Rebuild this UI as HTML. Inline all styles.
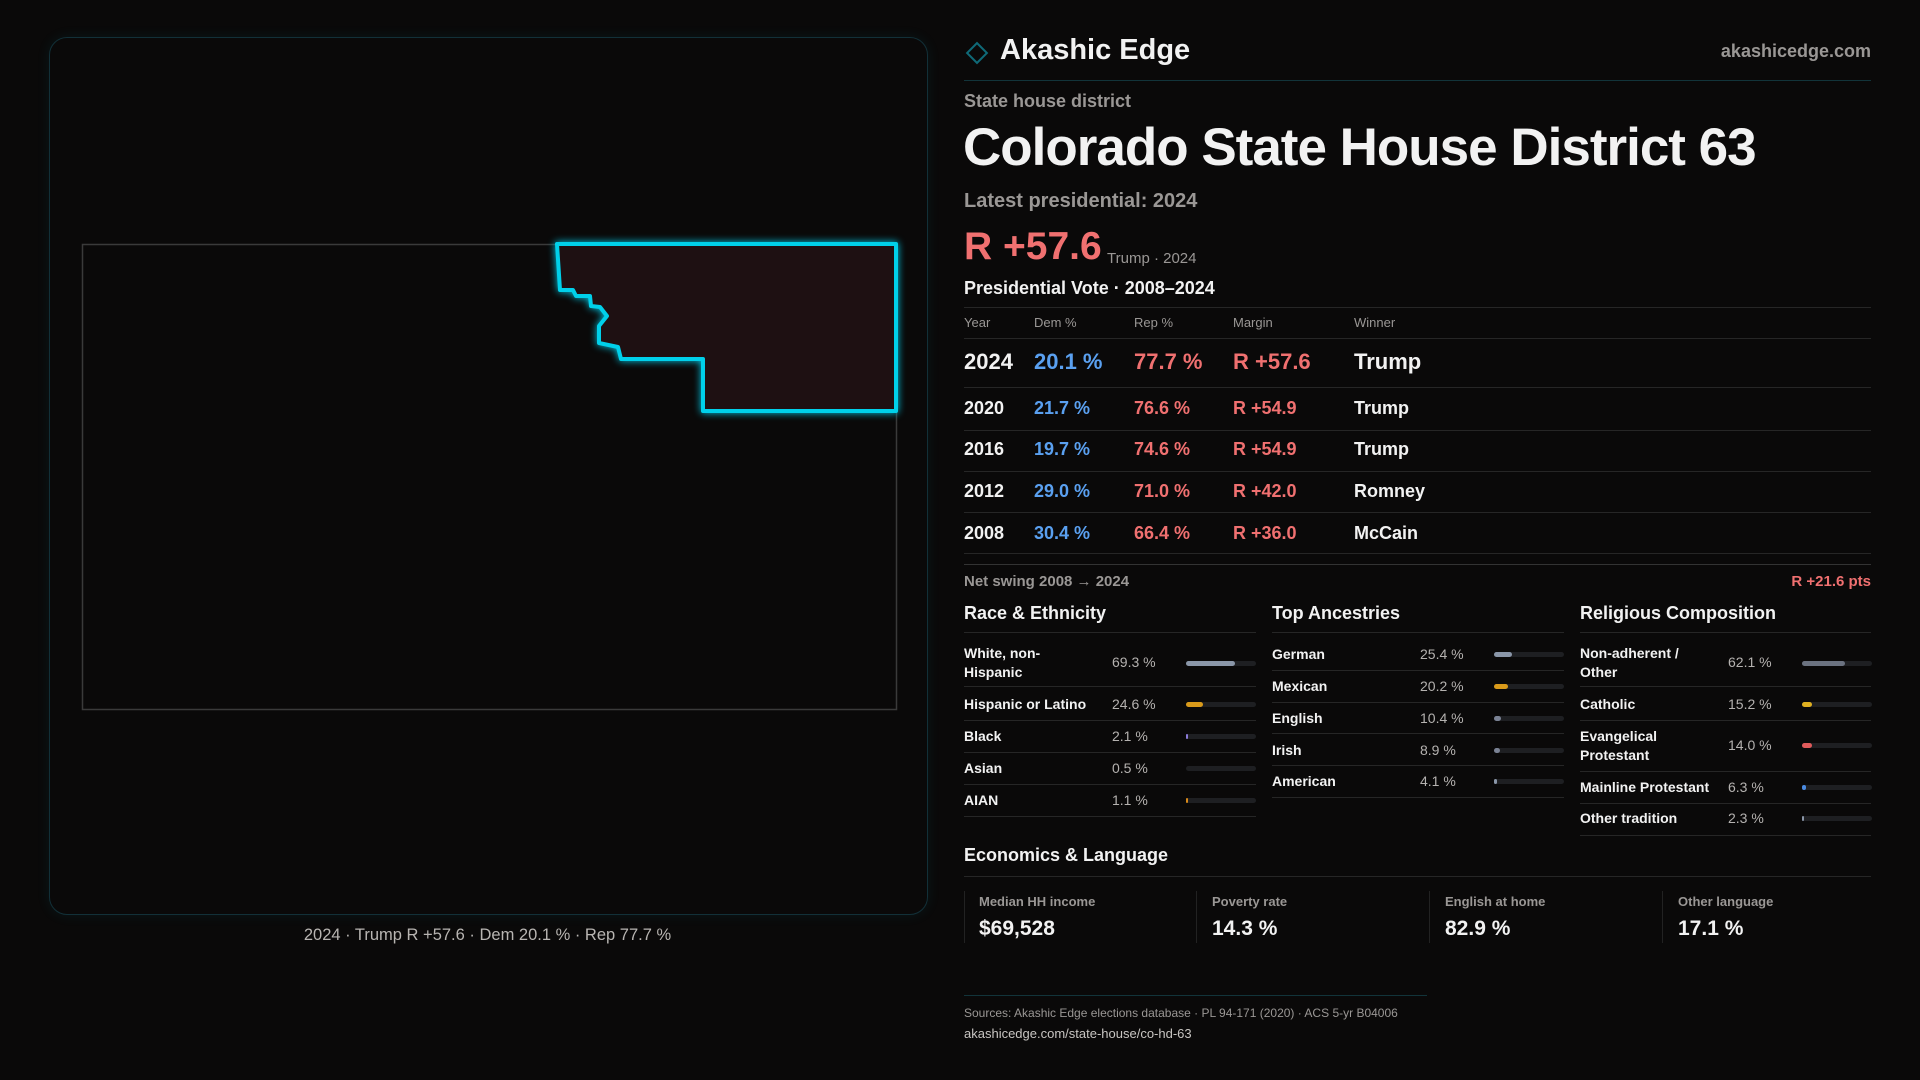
<!DOCTYPE html>
<html><head><meta charset="utf-8"><style>
*{margin:0;padding:0;box-sizing:border-box}
body{width:1920px;height:1080px;background:#0a0909;font-family:"Liberation Sans",sans-serif;color:#f2f2f2;position:relative;overflow:hidden}
.a{position:absolute;white-space:nowrap}
.g{color:#9a9795}
.line{position:absolute;height:1px;background:#262626}
.red{color:#f07070}.blue{color:#5aa0f0}
.bar{position:absolute;height:5px;border-radius:3px;background:#1e1f22;width:70px}
.bar i{position:absolute;left:0;top:0;bottom:0;border-radius:3px}
.sec{font-size:18px;font-weight:bold}
.rl{font-size:14px;font-weight:bold;line-height:19px}
.rv{font-size:14px;color:#b5b2b0}
</style></head><body>
<div style="position:absolute;left:49px;top:37px;width:879px;height:878px;border:1px solid #123038;border-radius:18px;box-shadow:0 0 14px rgba(0,200,230,0.08)"></div>
<svg class="a" style="left:0;top:0" width="960" height="960">
<rect x="82.5" y="244.5" width="814" height="465" fill="none" stroke="#3a3a3a" stroke-width="1.5"/>
<polygon points="557,244 896,244 896,411 703,411 703,359 621,359 618,347 599,343 599,326 607,316 600,307 591,306 590,296 576,296 573,290 560,290" fill="#1e1012" stroke="#00d0ea" stroke-width="4" stroke-linejoin="round" style="filter:drop-shadow(0 0 4px #00c8e6)"/>
</svg>
<div class="a g" style="left:0;width:975px;text-align:center;top:926px;font-size:16.5px;color:#b8b5b2">2024 · Trump R +57.6 · Dem 20.1 % · Rep 77.7 %</div>

<svg class="a" style="left:964px;top:40px" width="26" height="26"><rect x="6" y="6" width="14" height="14" transform="rotate(45 13 13)" fill="none" stroke="#0f6a78" stroke-width="2"/></svg>
<div class="a" style="left:1000px;top:34px;font-size:29px;font-weight:bold">Akashic Edge</div>
<div class="a g" style="right:49px;top:41px;font-size:18px;font-weight:bold">akashicedge.com</div>
<div class="line" style="left:964px;width:907px;top:80px;background:#12343a"></div>
<div class="a g" style="left:964px;top:91px;font-size:18px;font-weight:bold">State house district</div>
<div class="a" style="left:963px;top:117px;font-size:53px;font-weight:bold;letter-spacing:-1px">Colorado State House District 63</div>
<div class="a g" style="left:964px;top:190px;font-size:20px;font-weight:bold">Latest presidential: 2024</div>
<div class="a red" style="left:964px;top:225px;font-size:39px;font-weight:bold">R +57.6</div>
<div class="a g" style="left:1107px;top:250px;font-size:15px">Trump · 2024</div>
<div class="a" style="left:964px;top:278px;font-size:18px;font-weight:bold">Presidential Vote · 2008–2024</div>
<div class="line" style="left:964px;width:907px;top:307px"></div>
<div class="a g" style="left:964px;top:315px;font-size:13px">Year</div>
<div class="a g" style="left:1034px;top:315px;font-size:13px">Dem %</div>
<div class="a g" style="left:1134px;top:315px;font-size:13px">Rep %</div>
<div class="a g" style="left:1233px;top:315px;font-size:13px">Margin</div>
<div class="a g" style="left:1354px;top:315px;font-size:13px">Winner</div>
<div class="line" style="left:964px;width:907px;top:338px"></div>
<div style="position:absolute;left:964px;top:349px;font-size:22px;font-weight:bold;width:907px;height:26px">
<span class="a" style="left:0">2024</span><span class="a blue" style="left:70px">20.1 %</span><span class="a red" style="left:170px">77.7 %</span><span class="a red" style="left:269px">R +57.6</span><span class="a" style="left:390px">Trump</span></div>
<div class="line" style="left:964px;width:907px;top:387px"></div>
<div style="position:absolute;left:964px;top:398px;font-size:18px;font-weight:bold;width:907px">
<span class="a" style="left:0">2020</span><span class="a blue" style="left:70px">21.7 %</span><span class="a red" style="left:170px">76.6 %</span><span class="a red" style="left:269px">R +54.9</span><span class="a" style="left:390px">Trump</span></div>
<div class="line" style="left:964px;width:907px;top:430px"></div>
<div style="position:absolute;left:964px;top:439px;font-size:18px;font-weight:bold;width:907px">
<span class="a" style="left:0">2016</span><span class="a blue" style="left:70px">19.7 %</span><span class="a red" style="left:170px">74.6 %</span><span class="a red" style="left:269px">R +54.9</span><span class="a" style="left:390px">Trump</span></div>
<div class="line" style="left:964px;width:907px;top:471px"></div>
<div style="position:absolute;left:964px;top:481px;font-size:18px;font-weight:bold;width:907px">
<span class="a" style="left:0">2012</span><span class="a blue" style="left:70px">29.0 %</span><span class="a red" style="left:170px">71.0 %</span><span class="a red" style="left:269px">R +42.0</span><span class="a" style="left:390px">Romney</span></div>
<div class="line" style="left:964px;width:907px;top:512px"></div>
<div style="position:absolute;left:964px;top:523px;font-size:18px;font-weight:bold;width:907px">
<span class="a" style="left:0">2008</span><span class="a blue" style="left:70px">30.4 %</span><span class="a red" style="left:170px">66.4 %</span><span class="a red" style="left:269px">R +36.0</span><span class="a" style="left:390px">McCain</span></div>
<div class="line" style="left:964px;width:907px;top:553px"></div>
<div class="line" style="left:964px;width:907px;top:564px;background:#333"></div>
<div class="a g" style="left:964px;top:573px;font-size:15px;font-weight:bold">Net swing 2008 → 2024</div>
<div class="a red" style="right:49px;top:573px;font-size:15px;font-weight:bold">R +21.6 pts</div>

<div class="a sec" style="left:964px;top:603px">Race &amp; Ethnicity</div>
<div class="line" style="left:964px;width:292px;top:632px"></div>
<div class="a rl" style="left:964px;top:644px">White, non-<br>Hispanic</div><div class="a rv" style="left:1112px;top:654px">69.3 %</div><div class="bar" style="left:1186px;top:661px"><i style="width:49px;background:#8a96a8"></i></div>
<div class="line" style="left:964px;width:292px;top:686px"></div>
<div class="a rl" style="left:964px;top:695px">Hispanic or Latino</div><div class="a rv" style="left:1112px;top:696px">24.6 %</div><div class="bar" style="left:1186px;top:702px"><i style="width:17px;background:#d99a1a"></i></div>
<div class="line" style="left:964px;width:292px;top:720px"></div>
<div class="a rl" style="left:964px;top:727px">Black</div><div class="a rv" style="left:1112px;top:728px">2.1 %</div><div class="bar" style="left:1186px;top:734px"><i style="width:2px;background:#8a7ad8"></i></div>
<div class="line" style="left:964px;width:292px;top:752px"></div>
<div class="a rl" style="left:964px;top:759px">Asian</div><div class="a rv" style="left:1112px;top:760px">0.5 %</div><div class="bar" style="left:1186px;top:766px"></div>
<div class="line" style="left:964px;width:292px;top:784px"></div>
<div class="a rl" style="left:964px;top:791px">AIAN</div><div class="a rv" style="left:1112px;top:792px">1.1 %</div><div class="bar" style="left:1186px;top:798px"><i style="width:2px;background:#d98a1a"></i></div>
<div class="line" style="left:964px;width:292px;top:816px"></div>

<div class="a sec" style="left:1272px;top:603px">Top Ancestries</div>
<div class="line" style="left:1272px;width:292px;top:632px"></div>
<div class="a rl" style="left:1272px;top:645px">German</div><div class="a rv" style="left:1420px;top:646px">25.4 %</div><div class="bar" style="left:1494px;top:652px"><i style="width:18px;background:#8a96a8"></i></div>
<div class="line" style="left:1272px;width:292px;top:670px"></div>
<div class="a rl" style="left:1272px;top:677px">Mexican</div><div class="a rv" style="left:1420px;top:678px">20.2 %</div><div class="bar" style="left:1494px;top:684px"><i style="width:14px;background:#d99a1a"></i></div>
<div class="line" style="left:1272px;width:292px;top:702px"></div>
<div class="a rl" style="left:1272px;top:709px">English</div><div class="a rv" style="left:1420px;top:710px">10.4 %</div><div class="bar" style="left:1494px;top:716px"><i style="width:7px;background:#7a8294"></i></div>
<div class="line" style="left:1272px;width:292px;top:733px"></div>
<div class="a rl" style="left:1272px;top:741px">Irish</div><div class="a rv" style="left:1420px;top:742px">8.9 %</div><div class="bar" style="left:1494px;top:748px"><i style="width:6px;background:#7a8294"></i></div>
<div class="line" style="left:1272px;width:292px;top:765px"></div>
<div class="a rl" style="left:1272px;top:772px">American</div><div class="a rv" style="left:1420px;top:773px">4.1 %</div><div class="bar" style="left:1494px;top:779px"><i style="width:3px;background:#8a96a8"></i></div>
<div class="line" style="left:1272px;width:292px;top:797px"></div>

<div class="a sec" style="left:1580px;top:603px">Religious Composition</div>
<div class="line" style="left:1580px;width:291px;top:632px"></div>
<div class="a rl" style="left:1580px;top:644px">Non-adherent /<br>Other</div><div class="a rv" style="left:1728px;top:654px">62.1 %</div><div class="bar" style="left:1802px;top:661px"><i style="width:43px;background:#6b7280"></i></div>
<div class="line" style="left:1580px;width:291px;top:686px"></div>
<div class="a rl" style="left:1580px;top:695px">Catholic</div><div class="a rv" style="left:1728px;top:696px">15.2 %</div><div class="bar" style="left:1802px;top:702px"><i style="width:10px;background:#e0b020"></i></div>
<div class="line" style="left:1580px;width:291px;top:720px"></div>
<div class="a rl" style="left:1580px;top:727px">Evangelical<br>Protestant</div><div class="a rv" style="left:1728px;top:737px">14.0 %</div><div class="bar" style="left:1802px;top:743px"><i style="width:10px;background:#e05a5a"></i></div>
<div class="line" style="left:1580px;width:291px;top:771px"></div>
<div class="a rl" style="left:1580px;top:778px">Mainline Protestant</div><div class="a rv" style="left:1728px;top:779px">6.3 %</div><div class="bar" style="left:1802px;top:785px"><i style="width:4px;background:#4a8ae0"></i></div>
<div class="line" style="left:1580px;width:291px;top:803px"></div>
<div class="a rl" style="left:1580px;top:809px">Other tradition</div><div class="a rv" style="left:1728px;top:810px">2.3 %</div><div class="bar" style="left:1802px;top:816px"><i style="width:2px;background:#8a96a8"></i></div>
<div class="line" style="left:1580px;width:291px;top:835px"></div>

<div class="a sec" style="left:964px;top:845px">Economics &amp; Language</div>
<div class="line" style="left:964px;width:907px;top:876px"></div>
<div style="position:absolute;left:964px;top:891px;width:1px;height:52px;background:#222"></div>
<div style="position:absolute;left:1196px;top:891px;width:1px;height:52px;background:#222"></div>
<div style="position:absolute;left:1429px;top:891px;width:1px;height:52px;background:#222"></div>
<div style="position:absolute;left:1662px;top:891px;width:1px;height:52px;background:#222"></div>
<div class="a g" style="left:979px;top:894px;font-size:13px;font-weight:bold">Median HH income</div><div class="a" style="left:979px;top:917px;font-size:21px;font-weight:bold">$69,528</div>
<div class="a g" style="left:1212px;top:894px;font-size:13px;font-weight:bold">Poverty rate</div><div class="a" style="left:1212px;top:917px;font-size:21px;font-weight:bold">14.3 %</div>
<div class="a g" style="left:1445px;top:894px;font-size:13px;font-weight:bold">English at home</div><div class="a" style="left:1445px;top:917px;font-size:21px;font-weight:bold">82.9 %</div>
<div class="a g" style="left:1678px;top:894px;font-size:13px;font-weight:bold">Other language</div><div class="a" style="left:1678px;top:917px;font-size:21px;font-weight:bold">17.1 %</div>

<div class="line" style="left:964px;width:463px;top:995px;background:#12343a"></div>
<div class="a g" style="left:964px;top:1006px;font-size:12px">Sources: Akashic Edge elections database · PL 94-171 (2020) · ACS 5-yr B04006</div>
<div class="a" style="left:964px;top:1026px;font-size:13px;color:#c8c5c2">akashicedge.com/state-house/co-hd-63</div>
</body></html>
